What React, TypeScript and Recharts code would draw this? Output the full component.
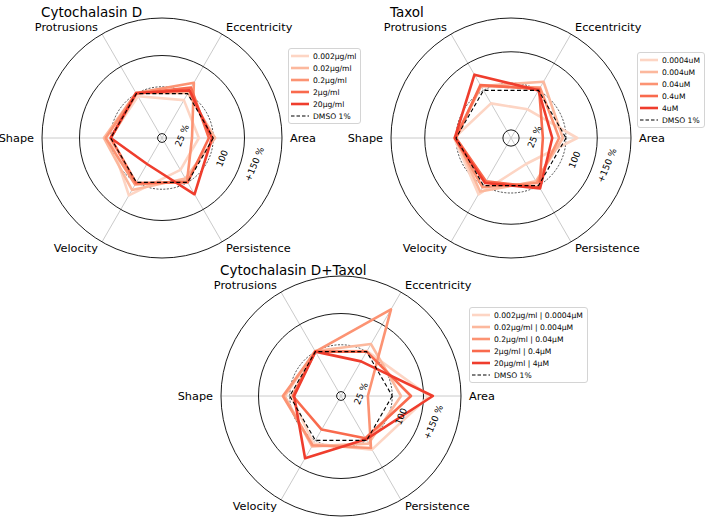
import React from "react";
import {
  RadarChart,
  Radar,
  PolarGrid,
  PolarAngleAxis,
  PolarRadiusAxis,
  Legend,
} from "recharts";

// clockwise from 3 o'clock
const axes = ["Area", "Persistence", "Velocity", "Shape", "Protrusions", "Eccentricity"];

const cytoNames = ["0.002µg/ml", "0.02µg/ml", "0.2µg/ml", "2µg/ml", "20µg/ml"];
const taxolNames = ["0.0004uM", "0.004uM", "0.04uM", "0.4uM", "4uM"];
const comboNames = [
  "0.002µg/ml | 0.0004µM",
  "0.02µg/ml | 0.004µM",
  "0.2µg/ml | 0.04µM",
  "2µg/ml | 0.4µM",
  "20µg/ml | 4µM",
];
const dmsoName = "DMSO 1%";

// % of DMSO control, in the order of `axes`
const cyto1 = [77, 77, 124, 101, 95, 88];
const cyto2 = [103, 93, 114, 111, 101, 101];
const cyto3 = [66, 98, 104, 108, 101, 120];
const cyto4 = [93, 100, 101, 100, 100, 111];
const cyto5 = [98, 122, 66, 100, 101, 106];

const taxol1 = [118, 60, 116, 103, 76, 65];
const taxol2 = [95, 92, 111, 100, 108, 116];
const taxol3 = [89, 95, 103, 102, 108, 105];
const taxol4 = [63, 103, 92, 100, 110, 102];
const taxol5 = [78, 105, 95, 102, 129, 100];

const combo1 = [159, 117, 106, 98, 101, 101];
const combo2 = [114, 106, 111, 108, 101, 114];
const combo3 = [61, 114, 109, 111, 100, 178];
const combo4 = [130, 96, 80, 95, 100, 100];
const combo5 = [165, 98, 133, 93, 100, 82];

const dmso = [100, 100, 100, 100, 100, 100];

const radialTicks = [25, 100, 150];
const radialTickText = ["25 %", "100", "+150 %"];

const reds = ["#fdd5c4", "#fcb89d", "#fc9373", "#f96a4d", "#ef3d2d"];
const font = "DejaVu Sans, sans-serif";
const R = 120;

function buildRows(series: number[][]) {
  return axes.map((axis, i) => {
    const row: Record<string, string | number> = { axis, dmso: dmso[i] };
    series.forEach((s, k) => {
      row["s" + k] = s[i];
    });
    return row;
  });
}

function AngleTick(p: any) {
  return (
    <text
      x={p.x}
      y={p.y}
      textAnchor={p.textAnchor}
      dominantBaseline="central"
      fontSize={11.3}
      fontFamily={font}
      fill="#000"
    >
      {p.payload.value}
    </text>
  );
}

const tickNudge = [
  [16, -4],
  [12, 3],
  [15, -2],
];

function RadiusTick(p: any) {
  const i = radialTicks.indexOf(p.payload.value);
  if (i < 0) return null;
  const x = p.x + tickNudge[i][0];
  const y = p.y + tickNudge[i][1];
  return (
    <text
      x={x}
      y={y}
      textAnchor="middle"
      dominantBaseline="central"
      fontSize={9}
      fontFamily={font}
      fill="#000"
      transform={`rotate(-67.5 ${x} ${y})`}
    >
      {radialTickText[i]}
    </text>
  );
}

function LegendBox({ payload, order }: any) {
  const items = [...(payload || [])].sort(
    (a: any, b: any) => order.indexOf(a.value) - order.indexOf(b.value)
  );
  return (
    <div
      style={{
        border: "1px solid #d4d4d4",
        borderRadius: 3,
        background: "#fff",
        padding: "1px 4px 1px 2px",
        fontFamily: font,
        fontSize: 7.6,
        color: "#000",
      }}
    >
      {items.map((e: any) => {
        const dashed = e.value === dmsoName;
        return (
          <div key={e.value} style={{ display: "flex", alignItems: "center", height: 12 }}>
            <svg width={18} height={6} style={{ marginRight: 4, flexShrink: 0 }}>
              <line
                x1={0}
                y1={3}
                x2={18}
                y2={3}
                stroke={e.color}
                strokeWidth={dashed ? 1.1 : 2.6}
                strokeDasharray={dashed ? "3.5 2" : undefined}
              />
            </svg>
            <span style={{ whiteSpace: "nowrap" }}>{e.value}</span>
          </div>
        );
      })}
    </div>
  );
}

type PanelProps = {
  title: string;
  names: string[];
  series: number[][];
  domain: [number, number];
  left: number;
  top: number;
  width: number;
  height: number;
  cx: number;
  cy: number;
  legendLeft: number;
  legendTop: number;
};

function Panel(props: PanelProps) {
  const { title, names, series, domain, left, top, width, height, cx, cy } = props;
  const [lo, hi] = domain;
  const rad = (v: number) => ((v - lo) / (hi - lo)) * R;
  const data = buildRows(series);
  const order = [...names, dmsoName];
  return (
    <div style={{ position: "absolute", left, top, width, height }}>
      <RadarChart
        width={width}
        height={height}
        data={data}
        cx={cx}
        cy={cy}
        outerRadius={R}
        startAngle={0}
        endAngle={-360}
        margin={{ top: 0, right: 0, bottom: 0, left: 0 }}
      >
        <PolarGrid gridType="circle" radialLines polarRadius={[]} stroke="#c4c4c4" strokeWidth={0.9} />
        <PolarGrid
          gridType="circle"
          radialLines={false}
          polarRadius={[rad(radialTicks[0]), rad(radialTicks[2]), R]}
          stroke="#000"
          strokeWidth={0.9}
        />
        <PolarGrid
          gridType="circle"
          radialLines={false}
          polarRadius={[rad(radialTicks[1])]}
          stroke="#000"
          strokeWidth={0.7}
          strokeDasharray="2 1.5"
        />
        <PolarAngleAxis dataKey="axis" tick={AngleTick} tickLine={false} axisLine={false} />
        <PolarRadiusAxis
          type="number"
          domain={domain}
          allowDataOverflow
          ticks={radialTicks}
          angle={-20}
          axisLine={false}
          tickLine={false}
          tick={RadiusTick}
        />
        {names.map((n, k) => (
          <Radar
            key={n}
            name={n}
            dataKey={"s" + k}
            stroke={reds[k]}
            strokeWidth={2.6}
            strokeLinejoin="round"
            fill="none"
            fillOpacity={0}
            dot={false}
            legendType="line"
            isAnimationActive={false}
          />
        ))}
        <Radar
          name={dmsoName}
          dataKey="dmso"
          stroke="#000"
          strokeWidth={1.1}
          strokeDasharray="4 2.5"
          fill="none"
          fillOpacity={0}
          dot={false}
          legendType="line"
          isAnimationActive={false}
        />
        <Legend
          layout="vertical"
          align="right"
          verticalAlign="top"
          wrapperStyle={{ left: props.legendLeft, top: props.legendTop, right: "auto", width: "auto" }}
          content={(p: any) => <LegendBox payload={p.payload} order={order} />}
        />
      </RadarChart>
      <div
        style={{
          position: "absolute",
          left: cx - 121,
          top: cy - 134,
          fontFamily: font,
          fontSize: 13.5,
          lineHeight: "16px",
          whiteSpace: "nowrap",
          color: "#000",
        }}
      >
        {title}
      </div>
    </div>
  );
}

export default function App() {
  return (
    <div style={{ position: "absolute", left: 0, top: 0, width: 707, height: 518, background: "#fff" }}>
      <Panel
        title="Cytochalasin D"
        names={cytoNames}
        series={[cyto1, cyto2, cyto3, cyto4, cyto5]}
        domain={[18, 210]}
        left={0}
        top={0}
        width={370}
        height={262}
        cx={162}
        cy={138}
        legendLeft={288}
        legendTop={48}
      />
      <Panel
        title="Taxol"
        names={taxolNames}
        series={[taxol1, taxol2, taxol3, taxol4, taxol5]}
        domain={[12, 204]}
        left={330}
        top={0}
        width={377}
        height={262}
        cx={181}
        cy={138}
        legendLeft={307}
        legendTop={52}
      />
      <Panel
        title="Cytochalasin D+Taxol"
        names={comboNames}
        series={[combo1, combo2, combo3, combo4, combo5]}
        domain={[18, 210]}
        left={160}
        top={258}
        width={440}
        height={260}
        cx={181}
        cy={138}
        legendLeft={309}
        legendTop={49}
      />
    </div>
  );
}
